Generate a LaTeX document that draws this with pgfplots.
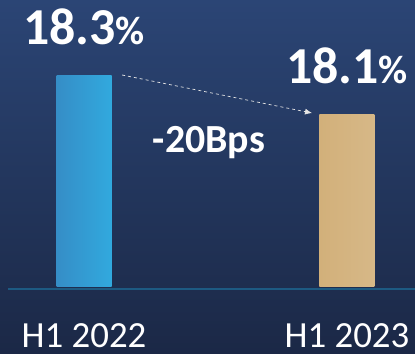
\documentclass[border=0pt]{standalone}
\usepackage{pgfplots}
\pgfplotsset{compat=1.18}
\usetikzlibrary{arrows.meta,backgrounds}
\usepackage{fontspec}
\setmainfont{Carlito}
\definecolor{bgtop}{HTML}{2B4575}
\definecolor{bgbot}{HTML}{1B2846}
\definecolor{barblue}{HTML}{3A9AD8}
\definecolor{bargold}{HTML}{D2B07A}
\definecolor{baseclr}{HTML}{1D5A82}
\begin{document}
\begin{tikzpicture}[x=1bp,y=1bp]
\begin{axis}[
  scale only axis, width=415bp, height=286bp,
  xmin=-0.3194, xmax=1.2586, ymin=17.2, ymax=18.698,
  axis line style={draw=none}, major tick length=0pt,
  ytick=\empty, xtick={0,1}, xticklabels={H1 2022,H1 2023},
  xticklabel style={font=\fontsize{37}{37}\selectfont, text=white, anchor=base, inner sep=0pt, yshift=-61bp},
  ybar, bar width=55bp, bar shift=0pt,
  clip mode=individual,
  /pgf/number format/assume math mode=true,
  nodes near coords={\bfseries\fontsize{52}{52}\selectfont\pgfmathprintnumber[fixed,fixed zerofill,precision=1]{\pgfplotspointmeta}{\fontsize{40}{40}\selectfont\%}},
  every node near coord/.append style={text=white, anchor=base, yshift=31bp, inner sep=0pt},
]
\addplot[left color=barblue!92!black, right color=barblue!85!cyan, draw=none] coordinates {(0,18.3)};
\addplot[left color=bargold, right color=bargold!90!white, draw=none] coordinates {(1,18.1)};
\draw[white!80!gray, dashed, line width=0.7bp, -{Latex[length=7bp,width=6bp]}] (axis cs:0.145,18.305) -- (axis cs:0.867,18.106);
\node[text=white, anchor=base, inner sep=0pt, font=\bfseries\fontsize{40}{40}\selectfont] at (axis cs:0.475,17.897) {-20Bps};
\coordinate (O) at (rel axis cs:0,0);
\end{axis}
\begin{scope}[shift={(O)}]
\begin{scope}[on background layer]
\shade[top color=bgtop, bottom color=bgbot] (0,-68) rectangle (415,286);
\end{scope}
\draw[baseclr, line width=2bp] (8,-3) -- (415,-3);
\pgfresetboundingbox
\useasboundingbox (0,-68) rectangle (415,286);
\end{scope}
\end{tikzpicture}
\end{document}
